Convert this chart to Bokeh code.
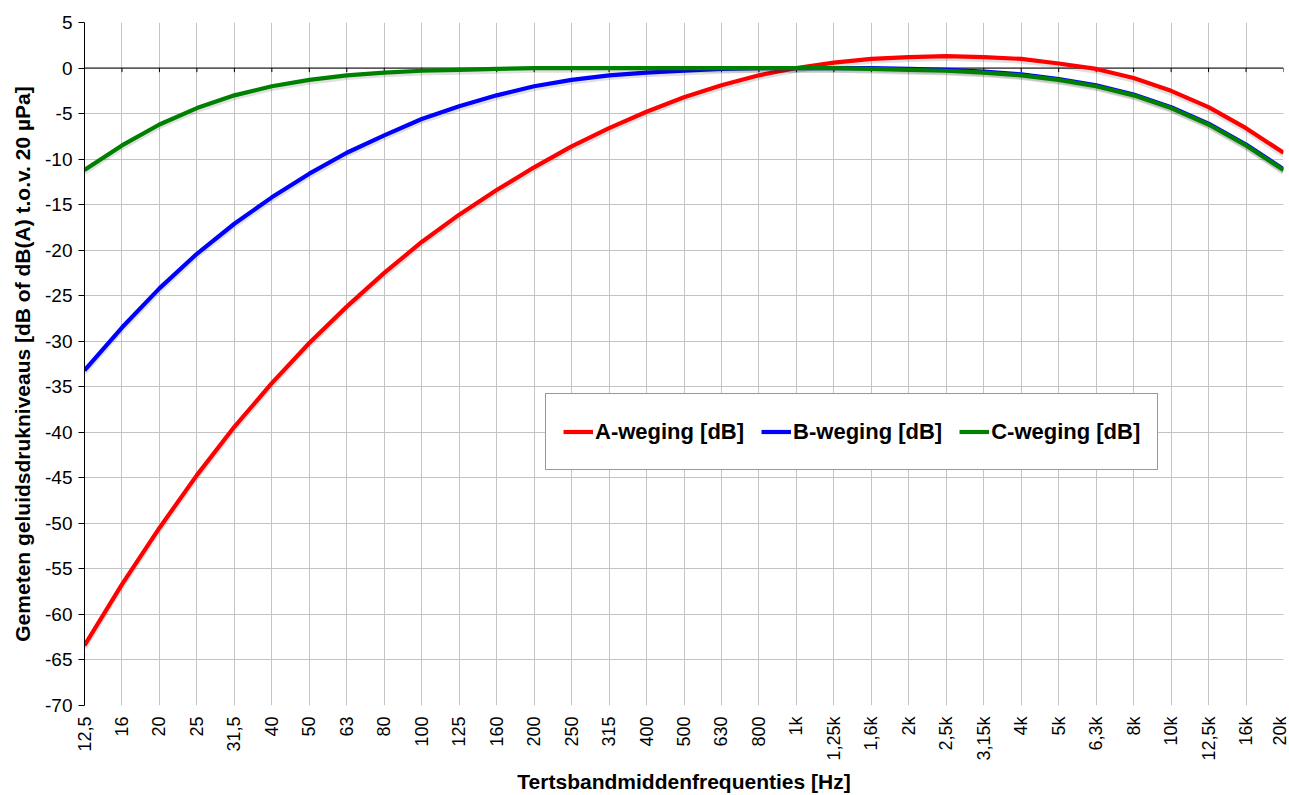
from math import pi
from bokeh.plotting import figure
from bokeh.models import Range1d, FixedTicker, Legend, LegendItem, Span
from bokeh.embed import file_html
from bokeh.resources import INLINE

freq_labels = ["12,5", "16", "20", "25", "31,5", "40", "50", "63", "80", "100",
               "125", "160", "200", "250", "315", "400", "500", "630", "800", "1k",
               "1,25k", "1,6k", "2k", "2,5k", "3,15k", "4k", "5k", "6,3k", "8k", "10k",
               "12,5k", "16k", "20k"]
a_weging = [-63.4, -56.7, -50.5, -44.7, -39.4, -34.6, -30.2, -26.2, -22.5, -19.1,
            -16.1, -13.4, -10.9, -8.6, -6.6, -4.8, -3.2, -1.9, -0.8, 0.0,
            0.6, 1.0, 1.2, 1.3, 1.2, 1.0, 0.5, -0.1, -1.1, -2.5,
            -4.3, -6.6, -9.3]
b_weging = [-33.2, -28.5, -24.2, -20.4, -17.1, -14.2, -11.6, -9.3, -7.4, -5.6,
            -4.2, -3.0, -2.0, -1.3, -0.8, -0.5, -0.3, -0.1, 0.0, 0.0,
            0.0, 0.0, -0.1, -0.2, -0.4, -0.7, -1.2, -1.9, -2.9, -4.3,
            -6.1, -8.4, -11.1]
c_weging = [-11.2, -8.5, -6.2, -4.4, -3.0, -2.0, -1.3, -0.8, -0.5, -0.3,
            -0.2, -0.1, 0.0, 0.0, 0.0, 0.0, 0.0, 0.0, 0.0, 0.0,
            0.0, -0.1, -0.2, -0.3, -0.5, -0.8, -1.3, -2.0, -3.0, -4.4,
            -6.2, -8.5, -11.2]
series_names = ["A-weging [dB]", "B-weging [dB]", "C-weging [dB]"]
series_colors = ["#ff0000", "#0000ff", "#008000"]
y_ticks = list(range(-70, 6, 5))

FONT = "Liberation Sans"
idx = list(range(len(freq_labels)))

p = figure(width=1289, height=795, output_backend="svg", toolbar_location=None,
           x_range=Range1d(0, len(freq_labels) - 1), y_range=Range1d(min(y_ticks), max(y_ticks)),
           min_border_left=84, min_border_right=6, min_border_top=22, min_border_bottom=88)
p.outline_line_color = None
p.background_fill_color = "white"
p.border_fill_color = "white"

# grids
p.xgrid.ticker = FixedTicker(ticks=idx)
p.ygrid.ticker = FixedTicker(ticks=y_ticks)
for g in (p.xgrid, p.ygrid):
    g.grid_line_color = "#c4c4c4"
    g.grid_line_width = 1

# x axis
p.xaxis.ticker = FixedTicker(ticks=idx)
p.xaxis.major_label_overrides = {i: lab for i, lab in zip(idx, freq_labels)}
p.xaxis.major_label_orientation = pi / 2
p.xaxis.axis_line_color = None
p.xaxis.major_tick_line_color = None
p.xaxis.minor_tick_line_color = None
p.xaxis.major_label_text_font = FONT
p.xaxis.major_label_text_font_size = "18px"
p.xaxis.major_label_text_color = "black"
p.xaxis.major_label_standoff = 5
p.xaxis.axis_label = "Tertsbandmiddenfrequenties [Hz]"
p.xaxis.axis_label_text_font = FONT
p.xaxis.axis_label_text_font_size = "21px"
p.xaxis.axis_label_text_font_style = "bold"
p.xaxis.axis_label_text_color = "black"
p.xaxis.axis_label_standoff = 6

# y axis
p.yaxis.ticker = FixedTicker(ticks=y_ticks)
p.yaxis.major_label_overrides = {t: str(t) for t in y_ticks}
p.yaxis.axis_line_color = "black"
p.yaxis.major_tick_line_color = "black"
p.yaxis.major_tick_out = 6
p.yaxis.major_tick_in = 0
p.yaxis.minor_tick_line_color = None
p.yaxis.major_label_text_font = FONT
p.yaxis.major_label_text_font_size = "19px"
p.yaxis.major_label_text_color = "black"
p.yaxis.major_label_standoff = 6
p.yaxis.axis_label = "Gemeten geluidsdrukniveaus [dB of dB(A) t.o.v. 20 \u00b5Pa]"
p.yaxis.axis_label_text_font = FONT
p.yaxis.axis_label_text_font_size = "21px"
p.yaxis.axis_label_text_font_style = "bold"
p.yaxis.axis_label_text_color = "black"
p.yaxis.axis_label_standoff = 8

# zero axis line with tick marks
p.add_layout(Span(location=0, dimension="width", line_color="black", line_width=1, level="underlay"))
p.segment(x0=idx, y0=[0] * len(idx), x1=idx, y1=[-0.45] * len(idx), line_color="black", line_width=1)

renderers = []
for ys, col in zip([a_weging, b_weging, c_weging], series_colors):
    # soft shadow
    p.line(idx, [y - 0.25 for y in ys], line_color="black", line_alpha=0.12, line_width=5)
    r = p.line(idx, ys, line_color=col, line_width=4.2)
    renderers.append(r)

legend = Legend(items=[LegendItem(label=n, renderers=[r]) for n, r in zip(series_names, renderers)],
                orientation="horizontal", location=(461, 235),
                label_text_font=FONT, label_text_font_size="22px", label_text_font_style="bold",
                label_text_color="black", glyph_width=30, glyph_height=41, label_height=41,
                label_standoff=2, spacing=17, padding=17, margin=0,
                border_line_color="#333333", border_line_width=1,
                background_fill_color="white", background_fill_alpha=1.0)
p.add_layout(legend, "center")

open("out.html", "w").write(file_html(p, INLINE))
